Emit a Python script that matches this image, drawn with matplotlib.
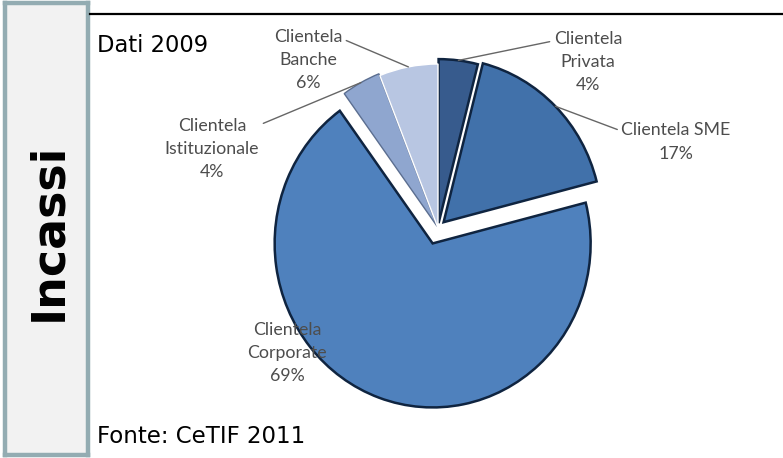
import numpy as np
import matplotlib
matplotlib.use("Agg")
import matplotlib.pyplot as plt
from matplotlib.lines import Line2D

W, H = 783, 458

# data
labels = ["Clientela\nPrivata", "Clientela SME", "Clientela\nCorporate",
          "Clientela\nIstituzionale", "Clientela\nBanche"]
shares = [4, 17, 69, 4, 6]
colors = ["#375B8D", "#4171AA", "#4F81BD", "#8FA6CF", "#B8C6E2"]
edges = ["#0F2440", "#0F2440", "#0F2440", "#5B6E90", "#FFFFFF"]
explode = [0.03, 0.05, 0.1, 0.012, 0.0]

# label placement (figure pixels, origin bottom-left) and leader anchor on text box
label_pos = [(588, 396), (676, 316), (287, 105), (212, 309), (308, 398)]
leader_rel = [(0.0, 0.84), (0.0, 0.78), None, (0.93, 0.84), (1.0, 0.84)]

fig = plt.figure(figsize=(W / 100, H / 100), dpi=100)

# left side panel
side = fig.add_axes([5 / W, 3 / H, 83 / W, 452 / H])
side.set_facecolor("#F2F2F2")
side.set_xticks([])
side.set_yticks([])
for s in side.spines.values():
    s.set_color("#93ACB2")
    s.set_linewidth(3.2)
side.text(0.53, 0.493, "Incassi", rotation=90, ha="center", va="center",
          fontsize=33, fontweight="bold", color="black",
          family="DejaVu Sans", transform=side.transAxes)

# top rule
fig.add_artist(Line2D([90 / W, 1.0], [1 - 14 / H, 1 - 14 / H], color="black",
                      linewidth=1.6, transform=fig.transFigure))

# pie axes, slightly taller than wide like the original
rx, ry = 158, 164
cx, cy = 438, H - 228
ax = fig.add_axes([(cx - 1.25 * rx) / W, (cy - 1.25 * ry) / H,
                   2.5 * rx / W, 2.5 * ry / H])
wedges, _ = ax.pie(shares, colors=colors, explode=explode, startangle=90,
                   counterclock=False, radius=1.0,
                   wedgeprops=dict(linewidth=1.8))
for w, ec in zip(wedges, edges):
    w.set_edgecolor(ec)
wedges[3].set_linewidth(1.0)
wedges[4].set_linewidth(1.0)
ax.set_xlim(-1.25, 1.25)
ax.set_ylim(-1.25, 1.25)
ax.set_aspect("auto")
ax.axis("off")

# labels with leader lines to the middle of each wedge's outer arc
lab_kw = dict(fontsize=12.8, color="#4D4D4D", family="Lato", linespacing=1.55)
total = float(sum(shares))
start = 90.0
for i, (lab, v) in enumerate(zip(labels, shares)):
    pct = "%d%%" % round(100 * v / total)
    theta = np.deg2rad(start - 360 * v / total / 2)
    start -= 360 * v / total
    r = 1.0 + explode[i]
    xy = (r * np.cos(theta), r * np.sin(theta))
    txt = lab + "\n" + pct
    if leader_rel[i] is None:
        fig.text(label_pos[i][0] / W, label_pos[i][1] / H, txt, ha="center",
                 va="center", zorder=10, **lab_kw)
    else:
        ax.annotate(txt, xy=xy, xycoords="data",
                    xytext=label_pos[i], textcoords="figure pixels",
                    ha="center", va="center",
                    arrowprops=dict(arrowstyle="-", color="#666666", lw=1.0,
                                    relpos=leader_rel[i],
                                    shrinkA=1, shrinkB=0),
                    annotation_clip=False, **lab_kw)

fig.text(97 / W, (H - 52) / H, "Dati 2009", fontsize=16.3, color="black",
         family="DejaVu Sans", va="baseline")
fig.text(97 / W, (H - 443) / H, "Fonte: CeTIF 2011", fontsize=16.5,
         color="black", family="DejaVu Sans", va="baseline")

fig.savefig("out.png", dpi=100)
